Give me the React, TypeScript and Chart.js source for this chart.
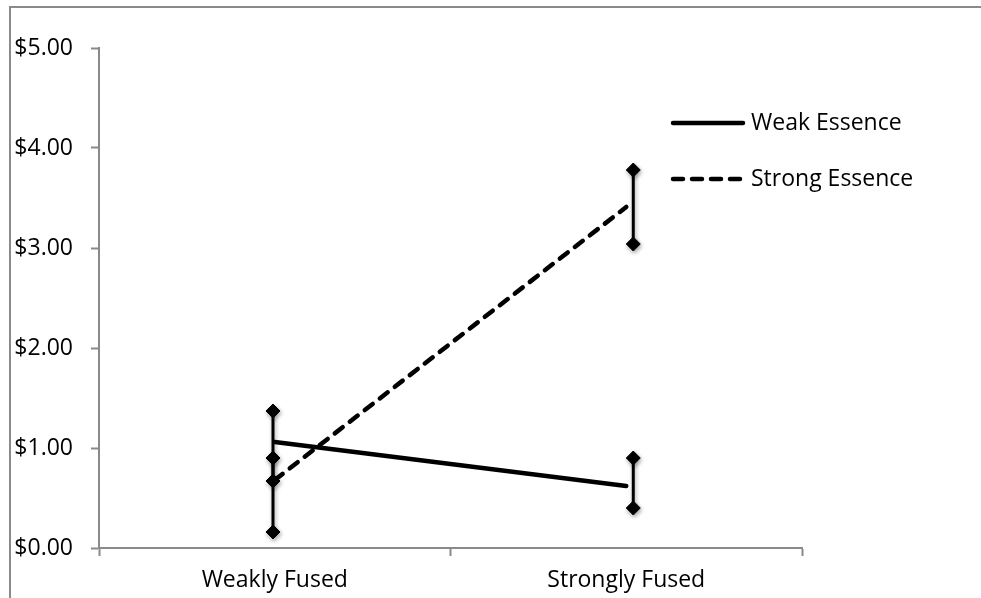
import React, { useEffect, useRef } from 'react';
import { Chart, registerables } from 'chart.js';

Chart.register(...registerables);

const categories = ['Weakly Fused', 'Strongly Fused'];
const seriesNames = ['Weak Essence', 'Strong Essence'];
const weakEssence = [1.06, 0.62];
const strongEssence = [0.68, 3.41];
const weakEssenceErrHigh = [1.37, 0.9];
const weakEssenceErrLow = [0.67, 0.4];
const strongEssenceErrHigh = [0.9, 3.78];
const strongEssenceErrLow = [0.16, 3.04];
const errorBarX = [0.495, 1.52];
const yTickValues = [0, 1, 2, 3, 4, 5];

const FONT = "'Open Sans', 'Noto Sans', sans-serif";
const AXIS_GREY = '#8a8a8a';

const legendPlugin = {
  id: 'customLegend',
  afterDraw(chart: any) {
    const ctx = chart.ctx;
    const rows = [123, 179];
    const x0 = 673;
    const x1 = 743;
    ctx.save();
    chart.data.datasets.forEach((ds: any, i: number) => {
      if (!ds.isMain) return;
      const y = rows[i];
      ctx.beginPath();
      ctx.setLineDash(ds.borderDash || []);
      ctx.lineWidth = ds.borderWidth;
      ctx.lineCap = 'round';
      ctx.strokeStyle = ds.borderColor;
      ctx.moveTo(x0, y);
      ctx.lineTo(x1, y);
      ctx.stroke();
      ctx.setLineDash([]);
      ctx.fillStyle = '#000';
      ctx.font = `23px ${FONT}`;
      ctx.textBaseline = 'middle';
      ctx.textAlign = 'left';
      ctx.fillText(ds.label, x1 + 8, y);
    });
    ctx.restore();
  },
};

const shadowPlugin = {
  id: 'errShadow',
  beforeDatasetDraw(chart: any, args: any) {
    const ds = chart.data.datasets[args.index];
    if (ds.isError) {
      const ctx = chart.ctx;
      ctx.save();
      ctx.shadowColor = 'rgba(0,0,0,0.35)';
      ctx.shadowBlur = 4;
      ctx.shadowOffsetX = 1;
      ctx.shadowOffsetY = 2;
    }
  },
  afterDatasetDraw(chart: any, args: any) {
    const ds = chart.data.datasets[args.index];
    if (ds.isError) chart.ctx.restore();
  },
};

export default function App() {
  const ref = useRef<HTMLCanvasElement | null>(null);

  useEffect(() => {
    if (!ref.current) return;
    const mainSeries = [weakEssence, strongEssence];
    const errHigh = [weakEssenceErrHigh, strongEssenceErrHigh];
    const errLow = [weakEssenceErrLow, strongEssenceErrLow];

    const datasets: any[] = [];
    mainSeries.forEach((vals, s) => {
      datasets.push({
        label: seriesNames[s],
        isMain: true,
        data: vals.map((v, i) => ({ x: i + 0.5, y: v })),
        borderColor: '#000',
        backgroundColor: '#000',
        borderWidth: 4.5,
        borderDash: s === 1 ? [10, 9] : [],
        borderCapStyle: 'round',
        pointRadius: 0,
        pointHoverRadius: 0,
        tension: 0,
        order: 2,
      });
    });
    mainSeries.forEach((_, s) => {
      categories.forEach((_c, i) => {
        datasets.push({
          label: `${seriesNames[s]} error ${i}`,
          isError: true,
          data: [
            { x: errorBarX[i], y: errHigh[s][i] },
            { x: errorBarX[i], y: errLow[s][i] },
          ],
          borderColor: '#000',
          backgroundColor: '#000',
          borderWidth: 3,
          pointStyle: 'rectRot',
          pointRadius: 7,
          pointBorderWidth: 1,
          pointBackgroundColor: '#000',
          pointBorderColor: '#000',
          tension: 0,
          order: 1,
        });
      });
    });

    const chart = new Chart(ref.current, {
      type: 'line',
      data: { datasets },
      options: {
        animation: false,
        responsive: false,
        devicePixelRatio: 1,
        layout: { padding: { left: 0, right: 179, top: 48, bottom: 0 } },
        plugins: {
          legend: { display: false },
          tooltip: { enabled: false },
        },
        scales: {
          x: {
            type: 'linear',
            min: 0,
            max: categories.length,
            afterBuildTicks: (scale: any) => {
              const t: any[] = [];
              for (let i = 0; i <= categories.length; i++) {
                t.push({ value: i });
                if (i < categories.length) t.push({ value: i + 0.5 });
              }
              scale.ticks = t;
            },
            afterFit: (scale: any) => {
              scale.height = 50;
            },
            border: { display: true, color: AXIS_GREY, width: 2 },
            grid: {
              display: true,
              drawOnChartArea: false,
              drawTicks: true,
              tickLength: 8,
              tickWidth: 2,
              tickColor: (c: any) =>
                c.tick && Number.isInteger(c.tick.value) ? AXIS_GREY : 'rgba(0,0,0,0)',
            },
            ticks: {
              autoSkip: false,
              maxRotation: 0,
              padding: 11,
              color: '#000',
              font: { family: FONT, size: 23 },
              callback: (v: any) => {
                const idx = Number(v) - 0.5;
                return Number.isInteger(idx) && categories[idx] ? categories[idx] : '';
              },
            },
          },
          y: {
            type: 'linear',
            min: 0,
            max: 5,
            afterBuildTicks: (scale: any) => {
              scale.ticks = yTickValues.map((v) => ({ value: v }));
            },
            afterFit: (scale: any) => {
              scale.width = 99;
            },
            border: { display: true, color: AXIS_GREY, width: 2 },
            grid: {
              display: true,
              drawOnChartArea: false,
              drawTicks: true,
              tickLength: 8,
              tickWidth: 2,
              tickColor: AXIS_GREY,
            },
            ticks: {
              padding: 18,
              color: '#000',
              font: { family: FONT, size: 23 },
              callback: (v: any) => '$' + Number(v).toFixed(2),
            },
          },
        },
      },
      plugins: [legendPlugin, shadowPlugin],
    } as any);
    return () => chart.destroy();
  }, []);

  return (
    <div style={{ position: 'fixed', left: 0, top: 0, width: 981, height: 598, background: '#fff', overflow: 'hidden' }}>
      <div
        style={{
          position: 'absolute',
          left: 9,
          top: 6,
          width: 1200,
          height: 1200,
          border: `2px solid ${AXIS_GREY}`,
          boxSizing: 'border-box',
        }}
      />
      <canvas ref={ref} width={981} height={598} style={{ position: 'absolute', left: 0, top: 0, width: 981, height: 598 }} />
    </div>
  );
}
